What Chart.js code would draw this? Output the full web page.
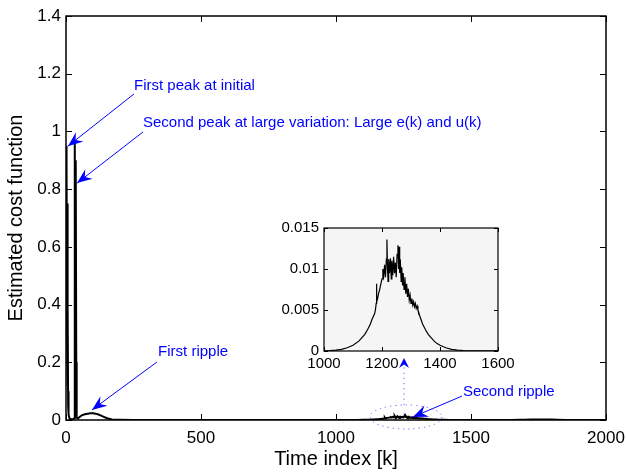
<!DOCTYPE html>
<html>
<head>
<meta charset="utf-8">
<script src="https://cdn.jsdelivr.net/npm/chart.js@4.4.0/dist/chart.umd.min.js"></script>
<style>
  body { margin: 0; background: #fff; }
  #wrap { position: relative; width: 626px; height: 475px; }
  #inset-box { position: absolute; left: 256px; top: 215px; }
</style>
</head>
<body>
<div id="wrap">
  <canvas id="main-chart" width="626" height="475"></canvas>
  <div id="inset-box"><canvas id="inset-chart" width="280" height="160"></canvas></div>
</div>
<script>
// values
var timeIndex = [
  0, 1, 2, 3, 4, 5, 6, 7, 8, 9, 10, 12, 14, 16, 18, 20, 24, 28, 31, 32, 33, 34, 35, 36, 37, 38, 39, 40, 42, 45,
  50, 55, 60, 70, 80, 90, 100, 110, 120, 130, 140, 150, 160, 170, 180, 200, 250, 300, 400, 500, 600, 700, 800, 900,
  1000, 1020, 1040, 1060, 1080, 1100, 1120, 1130, 1140, 1150, 1160, 1165, 1170, 1175, 1178, 1180, 1181, 1182, 1185,
  1188, 1192, 1196, 1200, 1203, 1206, 1209, 1212, 1215, 1217, 1219, 1221, 1223, 1226, 1229, 1232, 1234, 1237, 1240,
  1243, 1246, 1249, 1252, 1255, 1257, 1259, 1261, 1263, 1266, 1268, 1271, 1273, 1276, 1279, 1282, 1285, 1288, 1291,
  1294, 1297, 1300, 1303, 1306, 1309, 1312, 1315, 1318, 1321, 1324, 1330, 1340, 1350, 1360, 1370, 1380, 1390, 1400,
  1420, 1440, 1460, 1480, 1500, 1550, 1600,
  1650, 1680, 1700, 1720, 1740, 1760, 1780, 1800, 1820, 1850, 1900, 2000
];
var costValues = [
  0.95, 0.94, 0.62, 0.90, 0.30, 0.75, 0.12, 0.40, 0.05, 0.10, 0.02, 0.008, 0.005, 0.004, 0.003, 0.003, 0.003, 0.004, 0.006, 0.30, 0.97, 0.12, 0.90, 0.60, 0.90, 0.20, 0.05, 0.01, 0.006, 0.007,
  0.010, 0.014, 0.017, 0.020, 0.022, 0.023, 0.023, 0.022, 0.019, 0.015, 0.011, 0.007, 0.004, 0.002, 0.001, 0.0005, 0.0002, 0.0001, 0.0001, 0.0001, 0.0001, 0.0001, 0.00005, 0.00003,
  0.00002, 0.00005, 0.0001, 0.0002, 0.0004, 0.0007, 0.0012, 0.0016, 0.0020, 0.0026, 0.0033, 0.0038, 0.0042, 0.0046, 0.0052, 0.0058, 0.0082, 0.0060, 0.0064,
  0.0070, 0.0075, 0.0082, 0.0088, 0.0100, 0.0092, 0.0105, 0.0090, 0.0112, 0.0136, 0.0100, 0.0085, 0.0112, 0.0095, 0.0113, 0.0088, 0.0110, 0.0092, 0.0115,
  0.0095, 0.0108, 0.0090, 0.0118, 0.0129, 0.0100, 0.0127, 0.0095, 0.0112, 0.0085, 0.0102, 0.0080, 0.0095, 0.0075, 0.0090, 0.0070, 0.0082, 0.0066, 0.0076,
  0.0062, 0.0068, 0.0058, 0.0064, 0.0056, 0.0060, 0.0054, 0.0058, 0.0052, 0.0055, 0.0050, 0.0043, 0.0033, 0.0026, 0.0020, 0.0016, 0.0012, 0.0009, 0.0007,
  0.0004, 0.0002, 0.0001, 0.00005, 0.00002, 0.00001, 0.00001,
  0.0003, 0.0008, 0.0012, 0.0016, 0.0019, 0.0020, 0.0018, 0.0015, 0.0010, 0.0003, 0.0001, 0
];

var mainXTicks = [0, 500, 1000, 1500, 2000];
var mainYTicks = [0, 0.2, 0.4, 0.6, 0.8, 1, 1.2, 1.4];
var insetXTicks = [1000, 1200, 1400, 1600];
var insetYTicks = [0, 0.005, 0.01, 0.015];

// callouts: text anchor, arrow start, arrow tip (data coords)
var callouts = [
  { text: 'First peak at initial', tx: 252, ty: 1.157, fx: 252, fy: 1.13, px: 7, py: 0.949 },
  { text: 'Second peak at large variation: Large e(k) and u(k)', tx: 285, ty: 1.029, fx: 285, fy: 0.998, px: 41, py: 0.821 },
  { text: 'First ripple', tx: 341, ty: 0.236, fx: 337, fy: 0.201, px: 96, py: 0.035 },
  { text: 'Second ripple', tx: 1470, ty: 0.097, fx: 1467, fy: 0.083, px: 1285, py: 0.0104 }
];

var FONT = '"Liberation Sans", Arial, Helvetica, sans-serif';
var BLUE = '#0000ff';

var points = timeIndex.map(function (k, i) { return { x: k, y: costValues[i] }; });
var insetPoints = points.filter(function (p) { return p.x >= 1000 && p.x <= 1600; });

function cleanNum(v) { return String(Math.round(v * 100000) / 100000); }

// box + inward ticks on all four sides, like the original figure
var frameTicks = {
  id: 'frameTicks',
  beforeDatasetsDraw: function (chart, args, opts) {
    if (!opts.fill) return;
    var a = chart.chartArea, ctx = chart.ctx;
    ctx.save();
    ctx.fillStyle = opts.fill;
    ctx.fillRect(a.left, a.top, a.right - a.left, a.bottom - a.top);
    ctx.restore();
  },
  afterDatasetsDraw: function (chart, args, opts) {
    var ctx = chart.ctx, a = chart.chartArea, sx = chart.scales.x, sy = chart.scales.y;
    var len = opts.len || 5;
    ctx.save();
    ctx.strokeStyle = '#000';
    ctx.lineWidth = opts.width || 1;
    ctx.strokeRect(a.left, a.top, a.right - a.left, a.bottom - a.top);
    ctx.lineWidth = 1;
    ctx.beginPath();
    sx.ticks.forEach(function (t) {
      var x = Math.round(sx.getPixelForValue(t.value)) + 0.5;
      ctx.moveTo(x, a.bottom); ctx.lineTo(x, a.bottom - len);
      ctx.moveTo(x, a.top); ctx.lineTo(x, a.top + len);
    });
    sy.ticks.forEach(function (t) {
      var y = Math.round(sy.getPixelForValue(t.value)) + 0.5;
      ctx.moveTo(a.left, y); ctx.lineTo(a.left + len, y);
      ctx.moveTo(a.right, y); ctx.lineTo(a.right - len, y);
    });
    ctx.stroke();
    ctx.restore();
  }
};

function arrowHead(ctx, x0, y0, x1, y1, len, half) {
  var ang = Math.atan2(y1 - y0, x1 - x0);
  var c = Math.cos(ang), s = Math.sin(ang);
  var bx = x1 - len * c, by = y1 - len * s;
  var nx = x1 - len * 0.65 * c, ny = y1 - len * 0.65 * s;
  ctx.beginPath();
  ctx.moveTo(x1, y1);
  ctx.lineTo(bx - half * s, by + half * c);
  ctx.lineTo(nx, ny);
  ctx.lineTo(bx + half * s, by - half * c);
  ctx.closePath();
  ctx.fill();
}

var calloutPlugin = {
  id: 'callouts',
  afterDraw: function (chart) {
    var ctx = chart.ctx, sx = chart.scales.x, sy = chart.scales.y;
    ctx.save();
    ctx.font = '15px ' + FONT;
    ctx.textBaseline = 'middle';
    ctx.fillStyle = BLUE;
    ctx.strokeStyle = BLUE;
    callouts.forEach(function (c) {
      ctx.fillText(c.text, sx.getPixelForValue(c.tx), sy.getPixelForValue(c.ty));
      var x0 = sx.getPixelForValue(c.fx), y0 = sy.getPixelForValue(c.fy);
      var x1 = sx.getPixelForValue(c.px), y1 = sy.getPixelForValue(c.py);
      ctx.lineWidth = 1;
      ctx.beginPath(); ctx.moveTo(x0, y0); ctx.lineTo(x1, y1); ctx.stroke();
      arrowHead(ctx, x0, y0, x1, y1, 15, 6);
    });

    // dotted ellipse round the second ripple, and the dotted pointer up to the inset
    var cx = sx.getPixelForValue(1259), cy = sy.getPixelForValue(0.0104);
    var rx = sx.getPixelForValue(1259 + 133) - cx;
    var ry = cy - sy.getPixelForValue(0.0104 + 0.0416);
    ctx.strokeStyle = '#5c5cff';
    ctx.setLineDash([1.2, 4]);
    ctx.beginPath(); ctx.ellipse(cx, cy, rx, ry, 0, 0, Math.PI * 2); ctx.stroke();
    var lx = sx.getPixelForValue(1252);
    var ly0 = sy.getPixelForValue(0.052), ly1 = sy.getPixelForValue(0.215);
    ctx.beginPath(); ctx.moveTo(lx, ly0); ctx.lineTo(lx, ly1 + 6); ctx.stroke();
    ctx.setLineDash([]);
    ctx.fillStyle = BLUE;
    arrowHead(ctx, lx, ly0, lx, ly1, 10, 5);
    ctx.restore();
  }
};

Chart.register(frameTicks);

new Chart(document.getElementById('main-chart').getContext('2d'), {
  type: 'scatter',
  data: {
    datasets: [{
      data: points,
      showLine: true,
      borderColor: '#000',
      borderWidth: 2,
      pointRadius: 0,
      tension: 0
    }]
  },
  options: {
    responsive: false,
    animation: false,
    layout: { padding: { top: 16, right: 20, left: 0, bottom: 0 } },
    plugins: {
      legend: { display: false },
      tooltip: { enabled: false },
      frameTicks: { len: 6, width: 1.5 }
    },
    scales: {
      x: {
        type: 'linear', min: 0, max: 2000,
        afterBuildTicks: function (s) { s.ticks = mainXTicks.map(function (v) { return { value: v }; }); },
        afterFit: function (s) { s.height = 55; s.paddingLeft = 0; s.paddingRight = 0; },
        grid: { display: false, drawTicks: false },
        border: { display: false },
        ticks: { color: '#000', padding: 8, font: { family: FONT, size: 17 }, callback: cleanNum, maxRotation: 0 },
        title: { display: true, text: 'Time index [k]', color: '#000', font: { family: FONT, size: 20 }, padding: 4 }
      },
      y: {
        type: 'linear', min: 0, max: 1.4,
        afterBuildTicks: function (s) { s.ticks = mainYTicks.map(function (v) { return { value: v }; }); },
        afterFit: function (s) { s.width = 66; s.paddingTop = 0; s.paddingBottom = 0; },
        grid: { display: false, drawTicks: false },
        border: { display: false },
        ticks: { color: '#000', padding: 5, font: { family: FONT, size: 17 }, callback: cleanNum },
        title: { display: true, text: 'Estimated cost function', color: '#000', font: { family: FONT, size: 20 }, padding: 4 }
      }
    }
  },
  plugins: [calloutPlugin]
});

// zoomed view of the second ripple
new Chart(document.getElementById('inset-chart').getContext('2d'), {
  type: 'scatter',
  data: {
    datasets: [{
      data: insetPoints,
      showLine: true,
      borderColor: '#000',
      borderWidth: 1.2,
      pointRadius: 0,
      tension: 0
    }]
  },
  options: {
    responsive: false,
    animation: false,
    layout: { padding: { top: 13, right: 38, left: 0, bottom: 0 } },
    plugins: {
      legend: { display: false },
      tooltip: { enabled: false },
      frameTicks: { len: 4, width: 1.2, fill: '#f5f5f5' }
    },
    scales: {
      x: {
        type: 'linear', min: 1000, max: 1600,
        afterBuildTicks: function (s) { s.ticks = insetXTicks.map(function (v) { return { value: v }; }); },
        afterFit: function (s) { s.height = 24; s.paddingLeft = 0; s.paddingRight = 0; },
        grid: { display: false, drawTicks: false },
        border: { display: false },
        ticks: { color: '#000', padding: 4, font: { family: FONT, size: 15 }, callback: cleanNum, maxRotation: 0 }
      },
      y: {
        type: 'linear', min: 0, max: 0.015,
        afterBuildTicks: function (s) { s.ticks = insetYTicks.map(function (v) { return { value: v }; }); },
        afterFit: function (s) { s.width = 68; s.paddingTop = 0; s.paddingBottom = 0; },
        grid: { display: false, drawTicks: false },
        border: { display: false },
        ticks: { color: '#000', padding: 5, font: { family: FONT, size: 15 }, callback: cleanNum }
      }
    }
  }
});
</script>
</body>
</html>
